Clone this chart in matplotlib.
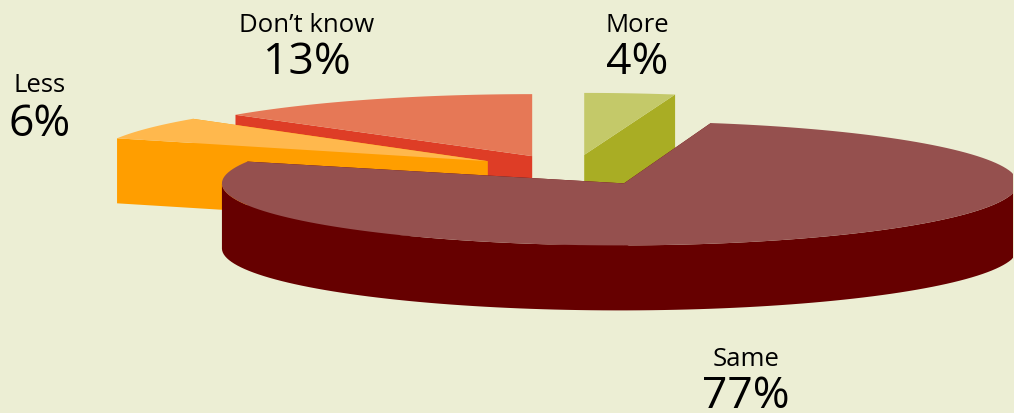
"""Exploded 3D pie chart with extruded slices."""

import numpy as np
import matplotlib
matplotlib.use("Agg")
import matplotlib.pyplot as plt

# Chart data, listed clockwise from twelve o'clock
labels = ["More", "Same", "Less", "Don\u2019t know"]
shares = [4, 77, 6, 13]
top_colors = ["#C4C969", "#95504E", "#FFB84D", "#E67856"]
side_colors = ["#A9AD24", "#660000", "#FF9E00", "#DE3D26"]
label_positions = [(637, 26), (746, 360), (40, 86), (307, 26)]
value_positions = [(637, 63), (746, 397), (40, 125), (307, 63)]
draw_order = [0, 3, 2, 1]

# Projection of the pie onto the canvas, in pixels
CENTER_X = 571
CENTER_Y = 170
RADIUS_X = 398
RADIUS_Y = 62
DEPTH = 65
EXPLODE = 0.245
BACKGROUND = "#ECEED4"
RIGHT_LIMIT = 1013

# Small per-slice corrections for the skewed 3D view
rim_shift = [(2, 0), (3, 0), (2, -2), (1, 0)]
apex_shift = [(2, 0), (7, 0), (0, -1), (1, 0)]
edge_tilt = [0, 1.2, 1.0, 1.4, 0]


def slice_outline(index, start, end):
    """Return apex, rim and a front-facing mask for a slice running clockwise."""
    mid = np.radians((start + end) / 2)
    cx = CENTER_X + EXPLODE * RADIUS_X * np.cos(mid)
    cy = CENTER_Y - EXPLODE * RADIUS_Y * np.sin(mid)
    angles = np.radians(np.linspace(start, end, 160))
    rim_x = cx + rim_shift[index][0] + RADIUS_X * np.cos(angles)
    rim_y = cy + rim_shift[index][1] - RADIUS_Y * np.sin(angles)
    apex = (cx + apex_shift[index][0], cy + apex_shift[index][1])
    return apex, np.minimum(rim_x, RIGHT_LIMIT), rim_y, np.sin(angles) <= 0


def draw_slice(ax, apex, rim_x, rim_y, front, top_color, side_color):
    """Extrude front rim and radial edges downward, then lay the top face over them."""
    if front.any():
        fx, fy = rim_x[front], rim_y[front]
        ax.fill(np.r_[fx, fx[::-1]], np.r_[fy, fy[::-1] + DEPTH],
                color=side_color, linewidth=0)
    for x, y in ((rim_x[0], rim_y[0]), (rim_x[-1], rim_y[-1])):
        ax.fill([apex[0], x, x, apex[0]], [apex[1], y, y + DEPTH, apex[1] + DEPTH],
                color=side_color, linewidth=0)
    ax.fill(np.r_[apex[0], rim_x], np.r_[apex[1], rim_y], color=top_color, linewidth=0)


def main():
    plt.rcParams["font.family"] = ["Open Sans", "DejaVu Sans"]

    fig = plt.figure(figsize=(10.14, 4.13), dpi=100, facecolor=BACKGROUND)
    ax = fig.add_axes([0, 0, 1, 1])
    ax.set_xlim(0, 1014)
    ax.set_ylim(413, 0)
    ax.axis("off")

    # Turn the shares into clockwise angle ranges starting at the top
    edges = 90 - np.cumsum([0] + shares) * 3.6 + np.array(edge_tilt)
    for i in draw_order:
        apex, rim_x, rim_y, front = slice_outline(i, edges[i], edges[i + 1])
        draw_slice(ax, apex, rim_x, rim_y, front, top_colors[i], side_colors[i])

    for i, name in enumerate(labels):
        ax.text(*label_positions[i], name, fontsize=18.5, color="black",
                ha="center", va="center")
        ax.text(*value_positions[i], f"{shares[i]}%", fontsize=32, color="black",
                ha="center", va="center")

    fig.savefig("out.png", dpi=100, facecolor=BACKGROUND)
    plt.close(fig)


if __name__ == "__main__":
    main()
